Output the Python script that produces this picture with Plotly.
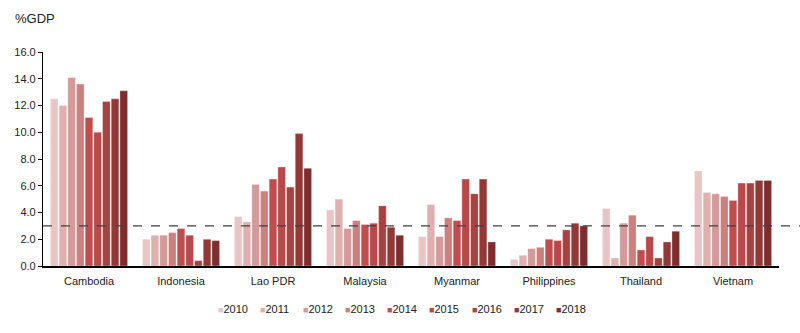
import plotly.graph_objects as go

countries = ["Cambodia", "Indonesia", "Lao PDR", "Malaysia", "Myanmar", "Philippines", "Thailand", "Vietnam"]
years = ["2010", "2011", "2012", "2013", "2014", "2015", "2016", "2017", "2018"]

v2010 = [12.5, 2.0, 3.7, 4.2, 2.2, 0.5, 4.3, 7.1]
v2011 = [12.0, 2.3, 3.3, 5.0, 4.6, 0.8, 0.6, 5.5]
v2012 = [14.1, 2.3, 6.1, 2.8, 2.2, 1.3, 3.2, 5.4]
v2013 = [13.6, 2.5, 5.6, 3.4, 3.6, 1.4, 3.8, 5.2]
v2014 = [11.1, 2.8, 6.5, 3.1, 3.4, 2.0, 1.2, 4.9]
v2015 = [10.0, 2.3, 7.4, 3.2, 6.5, 1.9, 2.2, 6.2]
v2016 = [12.3, 0.4, 5.9, 4.5, 5.4, 2.7, 0.6, 6.2]
v2017 = [12.5, 2.0, 9.9, 2.9, 6.5, 3.2, 1.8, 6.4]
v2018 = [13.1, 1.9, 7.3, 2.3, 1.8, 3.0, 2.6, 6.4]

series = [v2010, v2011, v2012, v2013, v2014, v2015, v2016, v2017, v2018]
colors = ["#e8c6c6", "#deb0b0", "#d49a9a", "#cd8080", "#c04c4c",
          "#b94848", "#a84242", "#943737", "#7f2c2c"]

threshold = 3.0
y_ticks = [0, 2, 4, 6, 8, 10, 12, 14, 16]

L, R, T, B = 43, 21, 52, 67
W, H = 800, 333
PW, PH = W - L - R, H - T - B

fig = go.Figure()
for yr, vals, col in zip(years, series, colors):
    fig.add_trace(go.Bar(
        x=countries, y=vals, name=yr, showlegend=False,
        marker=dict(color=col, line=dict(color="rgba(255,255,255,0.5)", width=0.6)),
    ))

fig.add_shape(type="line", xref="paper", yref="y", x0=0, x1=(W - L) / PW, y0=threshold, y1=threshold,
              line=dict(color="#404040", width=1.2, dash="dash"))

annotations = [dict(text="%GDP", xref="paper", yref="paper", x=(13 - L) / PW, y=(H - B - 19) / PH,
                    xanchor="left", yanchor="middle", showarrow=False,
                    font=dict(size=13, color="#222222"))]
# custom legend (small square markers as in the reference)
leg_x0, leg_pitch, leg_y = 216, 42.3, 309
for i, (yr, col) in enumerate(zip(years, colors)):
    annotations.append(dict(
        text=f"<span style='color:{col};font-size:9px'>■</span>{yr}",
        xref="paper", yref="paper",
        x=(leg_x0 + i * leg_pitch - L) / PW, y=(H - B - leg_y) / PH,
        xanchor="left", yanchor="middle", showarrow=False,
        font=dict(size=11, color="#222222")))

fig.update_layout(
    width=W, height=H,
    margin=dict(l=L, r=R, t=T, b=B, autoexpand=False),
    paper_bgcolor="white", plot_bgcolor="white",
    barmode="group", bargap=0.15, bargroupgap=0.12,
    font=dict(family="Liberation Sans, Arial, sans-serif", size=11, color="#222222"),
    showlegend=False,
    annotations=annotations,
    xaxis=dict(showline=True, linecolor="black", linewidth=1.5, ticks="",
               showgrid=False, tickfont=dict(size=11), ticklabelstandoff=4),
    yaxis=dict(range=[0, 16], tickvals=y_ticks, tickformat=".1f", showline=True,
               linecolor="black", linewidth=1.2, ticks="outside", ticklen=4,
               tickcolor="black", showgrid=False, zeroline=False, tickfont=dict(size=11)),
)

fig.write_html("out.html")
